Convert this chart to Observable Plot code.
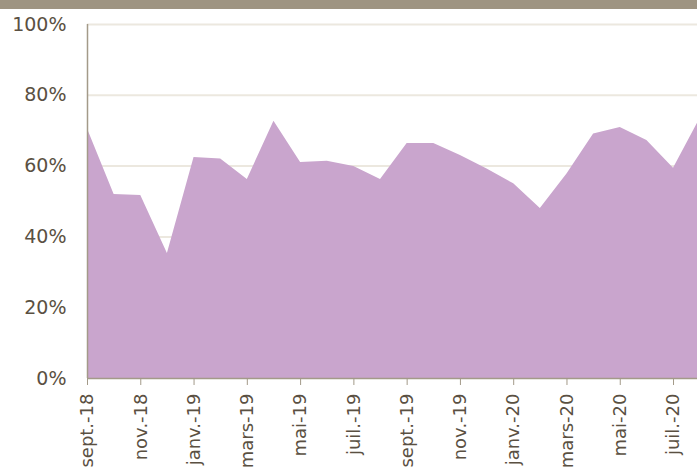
<!DOCTYPE html>
<html>
<head>
<meta charset="utf-8">
<script src="https://cdn.jsdelivr.net/npm/d3@7"></script>
<script src="https://cdn.jsdelivr.net/npm/@observablehq/plot@0.6"></script>
<style>
  html, body { margin: 0; padding: 0; background: #fff; overflow: hidden; }
  #banner { height: 9px; background: #9e9482; width: 697px; }
</style>
</head>
<body>
<div id="banner"></div>
<div id="chart"></div>
<script>
const months = ["sept.-18","oct.-18","nov.-18","déc.-18","janv.-19","févr.-19","mars-19","avr.-19","mai-19","juin-19","juil.-19","août-19","sept.-19","oct.-19","nov.-19","déc.-19","janv.-20","févr.-20","mars-20","avr.-20","mai-20","juin-20","juil.-20","août-20"];
const values = [70.5, 52.0, 51.7, 35.3, 62.4, 62.0, 56.2, 72.7, 61.0, 61.4, 59.9, 56.2, 66.4, 66.4, 63.0, 59.2, 55.0, 48.0, 57.8, 69.1, 70.9, 67.2, 59.4, 73.5];
const yTicks = [0, 20, 40, 60, 80, 100];
const xTicks = [0, 2, 4, 6, 8, 10, 12, 14, 16, 18, 20, 22];

const data = months.map((m, i) => ({i, m, v: values[i]}));

const chart = Plot.plot({
  width: 697,
  height: 459,
  marginTop: 15,
  marginBottom: 90,
  marginLeft: 87,
  marginRight: 0,
  style: {fontFamily: "'DejaVu Sans', Verdana, sans-serif", background: "white", color: "#5a5042"},
  x: {type: "linear", domain: [0, 22.9], axis: null, label: null},
  y: {domain: [0, 100], axis: null, label: null},
  marks: [
    Plot.gridY(yTicks.filter(d => d > 0), {stroke: "#ece8df", strokeOpacity: 1, strokeWidth: 2}),
    Plot.areaY(data, {x: "i", y: "v", fill: "#c9a5cd", clip: true}),
    Plot.ruleY([0], {stroke: "#a39a89", strokeWidth: 1.5}),
    Plot.ruleX([0], {stroke: "#a39a89", strokeWidth: 1.5}),
    Plot.axisY({ticks: yTicks, tickFormat: d => d + "%", tickSize: 0, tickPadding: 21, fontSize: 19, fill: "#5a5042", label: null}),
    Plot.axisX({ticks: xTicks, tickFormat: i => months[i], tickRotate: -90, tickSize: 7, tickPadding: 8, fontSize: 18, stroke: "#a39a89", fill: "#5a5042", label: null})
  ]
});
document.getElementById("chart").appendChild(chart);
</script>
</body>
</html>
